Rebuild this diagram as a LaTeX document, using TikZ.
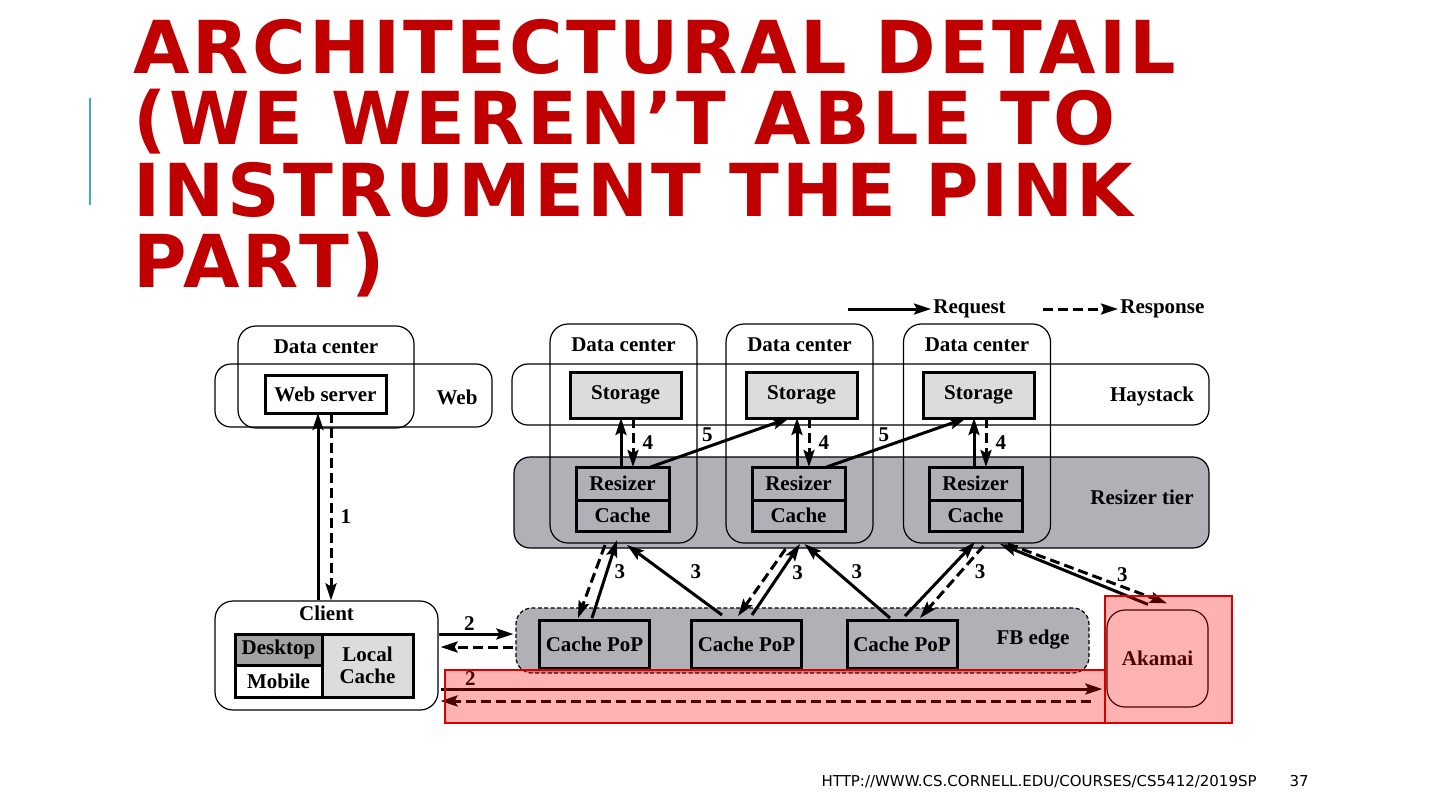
\documentclass[tikz,border=0pt]{standalone}
\usepackage{fontspec}
\setmainfont{Liberation Serif}
\newfontfamily\titlefont{DejaVu Sans}
\newfontfamily\titlespaced[LetterSpace=4.3]{DejaVu Sans}
\usetikzlibrary{arrows.meta,positioning,calc}
\definecolor{tiergray}{HTML}{B0B0B6}
\definecolor{storgray}{HTML}{DCDCDC}
\definecolor{deskgray}{HTML}{A2A2A2}
\definecolor{titlered}{HTML}{C00000}
\definecolor{barblue}{HTML}{4BA5C8}
\tikzset{
	band/.style={draw, line width=0.6pt, rounded corners=8pt, inner sep=0pt},
	dc/.style={draw, line width=0.6pt, rounded corners=9pt, inner sep=0pt, minimum width=73.5pt, minimum height=109.5pt},
	box/.style={draw, line width=1.5pt, inner sep=0pt, outer sep=0pt},
	req/.style={line width=1.5pt, -{Stealth[length=8.5pt,width=5.5pt,inset=1.5pt]}},
	resp/.style={req, dash pattern=on 5pt off 2.5pt},
	num/.style={inner sep=1pt},
	ttl/.style={anchor=base west, inner sep=0pt, text=titlered, font=\titlespaced\bfseries\fontsize{36.5}{38}\selectfont}
}

\begin{document}
\begin{tikzpicture}[x=0.5pt,y=-0.5pt,font=\bfseries\fontsize{10.5}{12.5}\selectfont]
		\useasboundingbox (0,0) rectangle (1440,810);
		% title and footer
		\node[ttl] (title1) at (133,73) {ARCHITECTURAL DETAIL};
		\node[ttl] (title2) at (133,144) {(WE WEREN’T ABLE TO};
		\node[ttl] (title3) at (133,216) {INSTRUMENT THE PINK};
		\node[ttl] (title4) at (133,287) {PART)};
		\draw[barblue, line width=1pt] (90,98) -- (90,205);
		\node[anchor=base east, inner sep=0pt, font=\titlefont\fontsize{7.5}{9}\selectfont] (url) at (1257,786) {HTTP://WWW.CS.CORNELL.EDU/COURSES/CS5412/2019SP};
		\node[anchor=base east, inner sep=0pt, font=\titlefont\fontsize{7.5}{9}\selectfont] (page) at (1309,786) {37};
		% legend
		\coordinate (rq) at (848,309);
		\node[anchor=west, inner sep=1pt] (rqt) at (931,309) {Request};
		\coordinate (rs) at (1043,309);
		\node[anchor=west, inner sep=1pt] (rst) at (1118,309) {Response};
		\draw[req] (rq) -- (rqt.west);
		\draw[resp] (rs) -- (rst.west);
		% tiers
		\node[band, minimum width=138.5pt, minimum height=31.5pt] (webband) at (353.5,395.5) {};
		\node[band, minimum width=348.5pt, minimum height=30.5pt] (hayband) at (860.5,394.5) {};
		\node[band, fill=tiergray, minimum width=347.5pt, minimum height=45.5pt] (rzband) at (861.5,502.5) {};
		\node[band, fill=tiergray, dash pattern=on 2pt off 1.2pt, minimum width=286.5pt, minimum height=32.5pt] (fbband) at (802.5,640.5) {};
		\node (webl) at (457,397) {Web};
		\node (hayl) at (1152,396) {Haystack};
		\node (rzl) at (1142,497) {Resizer tier};
		\node (fbl) at (1033,640) {FB edge};
		% data centers
		\node[dc, minimum width=88pt, minimum height=51pt] (dc0) at (326,377) {};
		\node[dc] (dc1) at (623.5,433.5) {};
		\node[dc] (dc2) at (799.5,433.5) {};
		\node[dc] (dc3) at (977,433.5) {};
		\node[below=3.5pt of dc0.north] (dc0l) {Data center};
		\node[below=3.5pt of dc1.north] (dc1l) {Data center};
		\node[below=3.5pt of dc2.north] (dc2l) {Data center};
		\node[below=3.5pt of dc3.north] (dc3l) {Data center};
		% boxes
		\node[box, fill=white, minimum width=60.5pt, minimum height=19pt] (web) at (325.5,394) {Web server};
		\node[box, fill=storgray, minimum width=55.5pt, minimum height=23pt] (st1) at (625.5,395) {Storage};
		\node[box, fill=storgray, minimum width=55.5pt, minimum height=23pt] (st2) at (801.5,395) {Storage};
		\node[box, fill=storgray, minimum width=55.5pt, minimum height=23pt] (st3) at (978.5,395) {Storage};
		\node[box, fill=tiergray, minimum width=46.5pt, minimum height=16.5pt] (rz1) at (622.5,483.5) {Resizer};
		\node[box, fill=tiergray, minimum width=46.5pt, minimum height=16.5pt] (rz2) at (798.5,483.5) {Resizer};
		\node[box, fill=tiergray, minimum width=46.5pt, minimum height=16.5pt] (rz3) at (975.5,483.5) {Resizer};
		\node[box, fill=tiergray, minimum width=46.5pt, minimum height=15.5pt, below=0pt of rz1] (ca1) {Cache};
		\node[box, fill=tiergray, minimum width=46.5pt, minimum height=15.5pt, below=0pt of rz2] (ca2) {Cache};
		\node[box, fill=tiergray, minimum width=46.5pt, minimum height=15.5pt, below=0pt of rz3] (ca3) {Cache};
		\node[box, fill=tiergray, minimum width=55pt, minimum height=24pt] (pop1) at (594.5,644) {Cache PoP};
		\node[box, fill=tiergray, minimum width=55pt, minimum height=24pt] (pop2) at (746.5,644) {Cache PoP};
		\node[box, fill=tiergray, minimum width=55pt, minimum height=24pt] (pop3) at (902,644) {Cache PoP};
		% client
		\node[band, rounded corners=9pt, minimum width=111.5pt, minimum height=54.5pt] (client) at (326.5,655.5) {};
		\node[below=-1pt of client.north] (clientl) {Client};
		\node[box, fill=deskgray, minimum width=43.5pt, minimum height=15.5pt] (desk) at (278.5,649.5) {Desktop};
		\node[box, fill=white, minimum width=43.5pt, minimum height=16pt, below=0pt of desk] (mob) {Mobile};
		\node[box, fill=storgray, minimum width=45.5pt, minimum height=31.5pt, align=center, font=\bfseries\fontsize{10.5}{11}\selectfont, anchor=north west] (lc) at (desk.north east) {Local\\Cache};
		\node[band, rounded corners=9pt, minimum width=50.5pt, minimum height=48.5pt] (akamai) at (1157.5,658.5) {Akamai};
		% step 1
		\draw[req] ($(client.north)+(-8.5,0)$) -- ($(web.south)+(-7.5,0)$);
		\draw[resp] ($(web.south)+(5.5,0)$) -- node[num, pos=.55, right=3pt] {1} ($(client.north)+(4.5,0)$);
		% step 2
		\draw[req] ($(client.east)+(0,-21.5)$) -- node[num, pos=.41, above=0pt] {2} ($(fbband.west)+(-2,-6.5)$);
		\draw[resp] ($(fbband.west)+(-2,6.5)$) -- ($(client.east)+(2,-8.5)$);
		\draw[req] ($(client.east)+(2,33.5)$) -- node[num, pos=.045, above=0pt] {2} ($(akamai.west)+(-4,30.5)$);
		\draw[resp] ($(akamai.west)+(-15,42.5)$) -- ($(client.east)+(2,45.5)$);
		% step 3
		\draw[resp] ($(ca1.south)+(-17.5,14)$) -- ($(pop1.north)+(-16.5,-2)$);
		\draw[req] ($(pop1.north)+(-2.5,-2)$) -- node[num, pos=.6, right=2pt] {3} ($(ca1.south)+(-5.5,9)$);
		\draw[req] ($(pop2.north)+(-24.5,-5)$) -- node[num, pos=.62, right=12pt] {3} ($(ca1.south)+(4.5,14)$);
		\draw[resp] ($(ca2.south)+(-13,18)$) -- ($(pop2.north)+(-8.5,-4)$);
		\draw[req] ($(pop2.north)+(5.5,-5)$) -- node[num, pos=.6, right=4pt] {3} ($(ca2.south)+(1.5,13)$);
		\draw[req] ($(pop3.north)+(-12,-2)$) -- node[num, pos=.63, right=6pt] {3} ($(ca2.south)+(6,13)$);
		\draw[req] ($(pop3.north)+(3,-4)$) -- ($(ca3.south)+(-0.5,11)$);
		\draw[resp] ($(ca3.south)+(8,15)$) -- node[num, pos=.35, right=5pt] {3} ($(pop3.north)+(18,-2)$);
		\draw[req] ($(akamai.north)+(-9.5,-5)$) -- ($(ca3.south)+(24.5,13)$);
		\draw[resp] ($(ca3.south)+(32.5,13)$) -- node[num, pos=.72, above=1pt] {3} ($(akamai.north)+(9.5,-6)$);
		% step 4
		\draw[req] ($(rz1.north)+(-1.5,0)$) -- ($(st1.south)+(-4.5,0)$);
		\draw[resp] ($(st1.south)+(7.5,0)$) -- node[num, right=3pt] {4} ($(rz1.north)+(10.5,0)$);
		\draw[req] ($(rz2.north)+(-1.5,0)$) -- ($(st2.south)+(-4.5,0)$);
		\draw[resp] ($(st2.south)+(7.5,0)$) -- node[num, right=3pt] {4} ($(rz2.north)+(10.5,0)$);
		\draw[req] ($(rz3.north)+(-1.5,0)$) -- ($(st3.south)+(-4.5,0)$);
		\draw[resp] ($(st3.south)+(7.5,0)$) -- node[num, right=3pt] {4} ($(rz3.north)+(10.5,0)$);
		% step 5
		\draw[req] ($(rz1.north)+(28,0)$) -- node[num, pos=.41, above=1pt] {5} ($(st2.south)+(-12,0)$);
		\draw[req] ($(rz2.north)+(28,0)$) -- node[num, pos=.41, above=1pt] {5} ($(st3.south)+(-12,0)$);
		% not instrumented
		\draw[red!85!black, line width=1pt, fill=red, fill opacity=0.3] (445,670) rectangle (1105,723);
		\draw[red!85!black, line width=1pt, fill=red, fill opacity=0.3] (1105,596) rectangle (1232,723);
	\end{tikzpicture}
\end{document}
